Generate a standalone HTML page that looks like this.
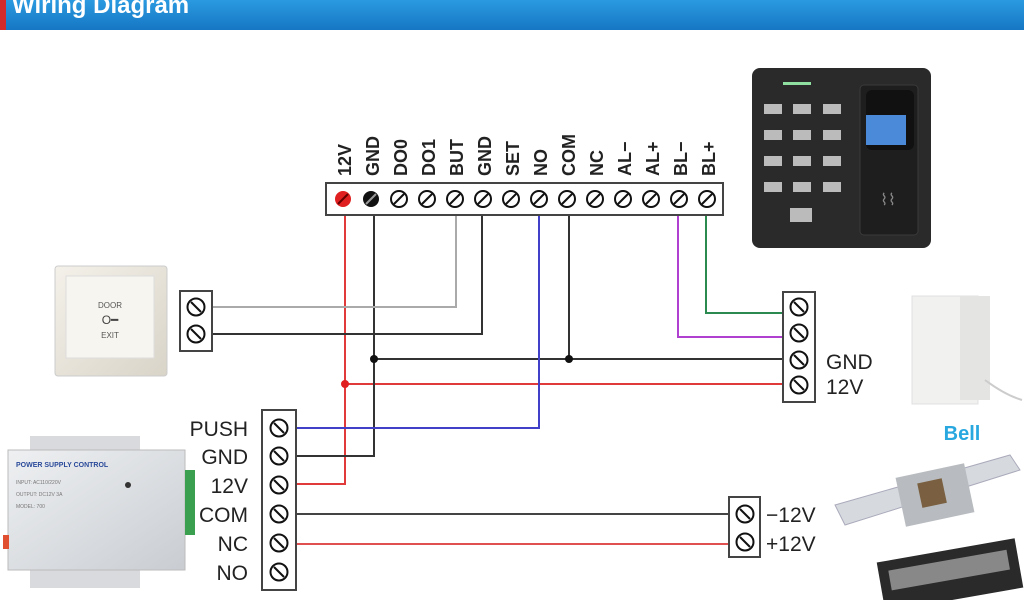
<!DOCTYPE html>
<html><head><meta charset="utf-8"><style>
html,body{margin:0;padding:0;background:#fff;width:1024px;height:600px;overflow:hidden}
svg{display:block}
text{font-family:"Liberation Sans",sans-serif}
</style></head><body>
<svg width="1024" height="600" viewBox="0 0 1024 600" xmlns="http://www.w3.org/2000/svg">
<defs>
<linearGradient id="hd" x1="0" y1="0" x2="0" y2="1"><stop offset="0" stop-color="#2a9ae0"/><stop offset="1" stop-color="#1677c4"/></linearGradient>
<linearGradient id="btn" x1="0" y1="0" x2="1" y2="1"><stop offset="0" stop-color="#f4f1ea"/><stop offset="1" stop-color="#d9d4c8"/></linearGradient>
<linearGradient id="psu" x1="0" y1="0" x2="1" y2="1"><stop offset="0" stop-color="#eef0f2"/><stop offset="1" stop-color="#c9cdd2"/></linearGradient>
<g id="sf"><circle r="8" fill="#fff" stroke="#111" stroke-width="2"/><line x1="-5" y1="5" x2="5" y2="-5" stroke="#111" stroke-width="2"/></g>
<g id="sb"><circle r="8.5" fill="#fff" stroke="#111" stroke-width="2"/><line x1="-5" y1="-5" x2="5" y2="5" stroke="#111" stroke-width="2"/></g>
</defs>
<!-- header -->
<rect x="0" y="0" width="1024" height="30" fill="url(#hd)"/>
<rect x="0" y="0" width="6" height="30" fill="#d42a2a"/>
<text x="12" y="13" font-size="24" font-weight="bold" fill="#fff">Wiring Diagram</text>

<!-- wires -->
<g fill="none" stroke-width="2">
<path d="M345 210 V484 H296" stroke="#e03a3a"/>
<path d="M345 384 H783" stroke="#e03a3a"/>
<path d="M374 210 V456 H296" stroke="#333"/>
<path d="M374 359 H783" stroke="#333"/>
<path d="M456 210 V307 H212" stroke="#aaa"/>
<path d="M482 210 V334 H212" stroke="#333"/>
<path d="M539 210 V428 H296" stroke="#4040c8"/>
<path d="M569 210 V359" stroke="#333"/>
<path d="M678 210 V337 H783" stroke="#b040d0"/>
<path d="M706 210 V313 H783" stroke="#2a8a50"/>
<path d="M296 514 H730" stroke="#444"/>
<path d="M296 544 H730" stroke="#e05050"/>
</g>
<circle cx="345" cy="384" r="4" fill="#e02020"/>
<circle cx="374" cy="359" r="4" fill="#111"/>
<circle cx="569" cy="359" r="4" fill="#111"/>

<!-- top terminal strip -->
<rect x="326" y="183" width="397" height="32" fill="#fff" stroke="#444" stroke-width="2"/>
<g font-size="18" font-weight="bold" fill="#222">
<text transform="translate(351,176) rotate(-90)">12V</text>
<text transform="translate(379,176) rotate(-90)">GND</text>
<text transform="translate(407,176) rotate(-90)">DO0</text>
<text transform="translate(435,176) rotate(-90)">DO1</text>
<text transform="translate(463,176) rotate(-90)">BUT</text>
<text transform="translate(491,176) rotate(-90)">GND</text>
<text transform="translate(519,176) rotate(-90)">SET</text>
<text transform="translate(547,176) rotate(-90)">NO</text>
<text transform="translate(575,176) rotate(-90)">COM</text>
<text transform="translate(603,176) rotate(-90)">NC</text>
<text transform="translate(631,176) rotate(-90)">AL−</text>
<text transform="translate(659,176) rotate(-90)">AL+</text>
<text transform="translate(687,176) rotate(-90)">BL−</text>
<text transform="translate(715,176) rotate(-90)">BL+</text>
</g>
<circle cx="343" cy="199" r="8" fill="#e02020"/><line x1="338" y1="204" x2="348" y2="194" stroke="#600" stroke-width="2"/>
<circle cx="371" cy="199" r="8" fill="#111"/><line x1="366" y1="204" x2="376" y2="194" stroke="#999" stroke-width="2"/>
<use href="#sf" x="399" y="199"/><use href="#sf" x="427" y="199"/><use href="#sf" x="455" y="199"/><use href="#sf" x="483" y="199"/>
<use href="#sf" x="511" y="199"/><use href="#sf" x="539" y="199"/><use href="#sf" x="567" y="199"/><use href="#sf" x="595" y="199"/>
<use href="#sf" x="623" y="199"/><use href="#sf" x="651" y="199"/><use href="#sf" x="679" y="199"/><use href="#sf" x="707" y="199"/>

<!-- door button terminal -->
<rect x="180" y="291" width="32" height="60" fill="#fff" stroke="#444" stroke-width="2"/>
<use href="#sb" x="196" y="307"/><use href="#sb" x="196" y="334"/>

<!-- right terminal -->
<rect x="783" y="292" width="32" height="110" fill="#fff" stroke="#444" stroke-width="2"/>
<use href="#sb" x="799" y="307"/><use href="#sb" x="799" y="333"/><use href="#sb" x="799" y="360"/><use href="#sb" x="799" y="385"/>
<g font-size="21" fill="#222"><text x="826" y="369">GND</text><text x="826" y="394">12V</text></g>

<!-- PSU terminal -->
<rect x="262" y="410" width="34" height="180" fill="#fff" stroke="#444" stroke-width="2"/>
<use href="#sb" x="279" y="428"/><use href="#sb" x="279" y="456"/><use href="#sb" x="279" y="485"/>
<use href="#sb" x="279" y="514"/><use href="#sb" x="279" y="543"/><use href="#sb" x="279" y="572"/>
<g font-size="21" fill="#222" text-anchor="end">
<text x="248" y="436">PUSH</text><text x="248" y="464">GND</text><text x="248" y="493">12V</text>
<text x="248" y="522">COM</text><text x="248" y="551">NC</text><text x="248" y="580">NO</text></g>

<!-- lock terminal -->
<rect x="729" y="497" width="31" height="60" fill="#fff" stroke="#444" stroke-width="2"/>
<use href="#sb" x="745" y="514"/><use href="#sb" x="745" y="542"/>
<g font-size="21" fill="#222"><text x="766" y="522">−12V</text><text x="766" y="551">+12V</text></g>

<!-- door exit button -->
<rect x="55" y="266" width="112" height="110" rx="3" fill="url(#btn)" stroke="#ccc"/>
<rect x="66" y="276" width="88" height="82" fill="#f7f5ef" stroke="#ddd"/>
<text x="110" y="308" font-size="8" text-anchor="middle" fill="#555">DOOR</text>
<text x="110" y="324" font-size="12" text-anchor="middle" fill="#444">O━</text>
<text x="110" y="338" font-size="8" text-anchor="middle" fill="#555">EXIT</text>

<!-- fingerprint reader -->
<rect x="752" y="68" width="179" height="180" rx="8" fill="#2a2a2a"/>
<rect x="860" y="85" width="58" height="150" rx="4" fill="#1e1e1e" stroke="#3a3a3a"/>
<rect x="866" y="90" width="48" height="60" rx="6" fill="#111"/>
<rect x="866" y="115" width="40" height="30" fill="#4a8ad8"/>
<rect x="783" y="82" width="28" height="3" fill="#8fe0a0"/>
<g fill="#bbb">
<rect x="764" y="104" width="18" height="10"/><rect x="793" y="104" width="18" height="10"/><rect x="823" y="104" width="18" height="10"/>
<rect x="764" y="130" width="18" height="10"/><rect x="793" y="130" width="18" height="10"/><rect x="823" y="130" width="18" height="10"/>
<rect x="764" y="156" width="18" height="10"/><rect x="793" y="156" width="18" height="10"/><rect x="823" y="156" width="18" height="10"/>
<rect x="764" y="182" width="18" height="10"/><rect x="793" y="182" width="18" height="10"/><rect x="823" y="182" width="18" height="10"/>
<rect x="790" y="208" width="22" height="14"/></g>
<text x="888" y="205" font-size="16" fill="#888" text-anchor="middle">⌇⌇</text>

<!-- bell -->
<rect x="912" y="296" width="66" height="108" fill="#f1f1ef" stroke="#e0e0e0"/>
<rect x="960" y="296" width="30" height="104" fill="#e4e4e2"/>
<path d="M985 380 Q1005 395 1022 400" stroke="#ccc" stroke-width="2" fill="none"/>
<text x="962" y="440" font-size="20" font-weight="bold" fill="#29a8e0" text-anchor="middle">Bell</text>

<!-- PSU -->
<rect x="30" y="436" width="110" height="20" fill="#d8dadd"/>
<rect x="30" y="568" width="110" height="20" fill="#d8dadd"/>
<rect x="8" y="450" width="177" height="120" fill="url(#psu)" stroke="#bbb"/>
<rect x="185" y="470" width="10" height="65" fill="#3aa050"/>
<text x="16" y="467" font-size="7" fill="#2a4a9a" font-weight="bold">POWER SUPPLY CONTROL</text>
<g font-size="5" fill="#777"><text x="16" y="484">INPUT: AC110/220V</text><text x="16" y="496">OUTPUT: DC12V 3A</text><text x="16" y="508">MODEL: 700</text></g>
<circle cx="128" cy="485" r="3" fill="#333"/>
<rect x="3" y="535" width="6" height="14" fill="#e05030"/>

<!-- locks -->
<polygon points="835,505 1010,455 1020,470 845,525" fill="#d6dadf" stroke="#aab"/>
<rect x="900" y="470" width="70" height="50" fill="#b8bcc0" transform="rotate(-12 935 495)"/>
<rect x="920" y="480" width="25" height="25" fill="#7a6040" transform="rotate(-12 935 495)"/>
<rect x="880" y="550" width="140" height="50" fill="#2a2a2a" transform="rotate(-10 950 575)"/>
<rect x="890" y="560" width="120" height="20" fill="#888" transform="rotate(-10 950 575)"/>
</svg>
</body></html>
